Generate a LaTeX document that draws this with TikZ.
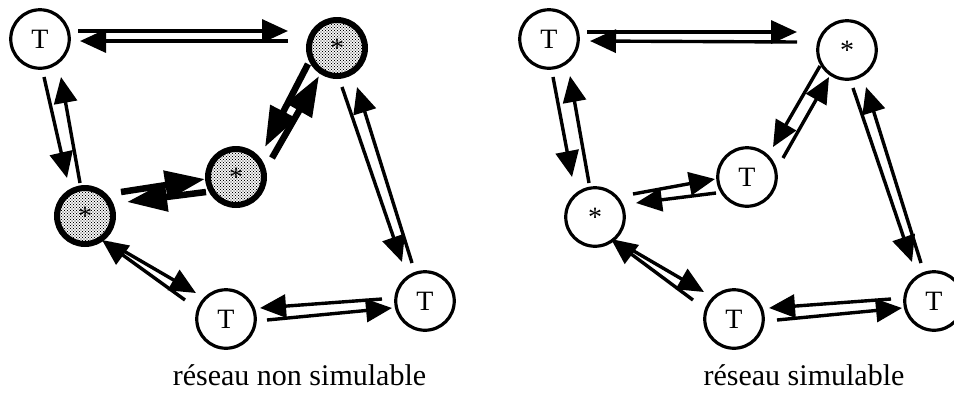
\documentclass[tikz,border=0pt]{standalone}
\usepackage{fontspec}
\setmainfont{Liberation Serif}
\usetikzlibrary{arrows.meta,calc,patterns}
\pgfdeclarepatternformonly{mydots}{\pgfqpoint{-1pt}{-1pt}}{\pgfqpoint{4pt}{4pt}}{\pgfqpoint{3pt}{3pt}}{%
  \pgfpathcircle{\pgfqpoint{0pt}{0pt}}{.7pt}%
  \pgfpathcircle{\pgfqpoint{1.5pt}{1.5pt}}{.7pt}%
  \pgfusepath{fill}}
\begin{document}
\begin{tikzpicture}[x=1pt,y=-1pt,
  tnode/.style={circle,draw,line width=3.2pt,minimum size=58.5pt,inner sep=0pt,font=\fontsize{28}{28}\selectfont},
  snode/.style={circle,draw,line width=6pt,minimum size=56pt,inner sep=0pt,pattern=mydots,font=\fontsize{28}{28}\selectfont},
  lk/.style={line width=3.4pt,-{Triangle[length=26pt,width=23pt]}},
  lkb/.style={line width=6.5pt,-{Triangle[length=40pt,width=28pt]}},
  lbl/.style={anchor=base,font=\fontsize{30}{30}\selectfont}
]
\useasboundingbox (0,0) rectangle (954,392);

% ---- left network
\node[tnode] (T1) at (40,39) {T};
\node[snode] (S1) at (337,48) {\raisebox{-6pt}{*}};
\node[snode] (S2) at (236,177) {\raisebox{-6pt}{*}};
\node[snode] (S3) at (85,216) {\raisebox{-6pt}{*}};
\node[tnode] (T2) at (226,319) {T};
\node[tnode] (T3) at (425,301) {T};

\draw[lk] ($(T1)+(38,-8)$) -- ($(S1)+(-49,-17)$);
\draw[lk] ($(S1)+(-49,-7)$) -- ($(T1)+(40,2)$);
\draw[lk] ($(T1)+(4,38)$) -- ($(S3)+(-18,-38)$);
\draw[lk] ($(S3)+(-5,-33)$) -- ($(T1)+(21,38)$);
\draw[lkb] ($(S3)+(36,-24)$) -- ($(S2)+(-31,2)$);
\draw[lkb] ($(S2)+(-30,15)$) -- ($(S3)+(42,-14)$);
\draw[lkb] ($(S1)+(-29,16)$) -- ($(S2)+(29,-30)$);
\draw[lkb] ($(S2)+(36,-19)$) -- ($(S1)+(-18,28)$);
\draw[lk] ($(S1)+(5,39)$) -- ($(T3)+(-23,-39)$);
\draw[lk] ($(T3)+(-13,-38)$) -- ($(S1)+(20,39)$);
\draw[lk] ($(T3)+(-43,-2)$) -- ($(T2)+(34,-11)$);
\draw[lk] ($(T2)+(41,1)$) -- ($(T3)+(-33,7)$);
\draw[lk] ($(S3)+(25,27)$) -- ($(T2)+(-30,-26)$);
\draw[lk] ($(T2)+(-41,-19)$) -- ($(S3)+(17,24)$);

\node[lbl] (L1) at (299.5,385) {réseau non simulable};

% ---- right network
\node[tnode] (U1) at (549,39) {T};
\node[tnode] (V1) at (847,50) {\raisebox{-6pt}{*}};
\node[tnode] (Um) at (747,177) {T};
\node[tnode] (V3) at (595,217) {\raisebox{-6pt}{*}};
\node[tnode] (U2) at (734,319) {T};
\node[tnode] (U3) at (934,301) {T};

\draw[lk] ($(U1)+(38,-7)$) -- ($(V1)+(-50,-18)$);
\draw[lk] ($(V1)+(-50,-8)$) -- ($(U1)+(41,2)$);
\draw[lk] ($(U1)+(4,38)$) -- ($(V3)+(-23,-40)$);
\draw[lk] ($(V3)+(-6,-34)$) -- ($(U1)+(21,37)$);
\draw[lk] ($(V3)+(38,-23)$) -- ($(Um)+(-32,2)$);
\draw[lk] ($(Um)+(-31,16)$) -- ($(V3)+(41,-14)$);
\draw[lk] ($(V1)+(-27,16)$) -- ($(Um)+(26,-30)$);
\draw[lk] ($(Um)+(36,-19)$) -- ($(V1)+(-18,27)$);
\draw[lk] ($(V1)+(6,38)$) -- ($(U3)+(-22,-39)$);
\draw[lk] ($(U3)+(-13,-38)$) -- ($(V1)+(19,37)$);
\draw[lk] ($(U3)+(-43,-2)$) -- ($(U2)+(35,-11)$);
\draw[lk] ($(U2)+(43,1)$) -- ($(U3)+(-32,7)$);
\draw[lk] ($(V3)+(25,26)$) -- ($(U2)+(-30,-27)$);
\draw[lk] ($(U2)+(-41,-19)$) -- ($(V3)+(16,22)$);

\node[lbl] (L2) at (804,385) {réseau simulable};
\end{tikzpicture}
\end{document}
